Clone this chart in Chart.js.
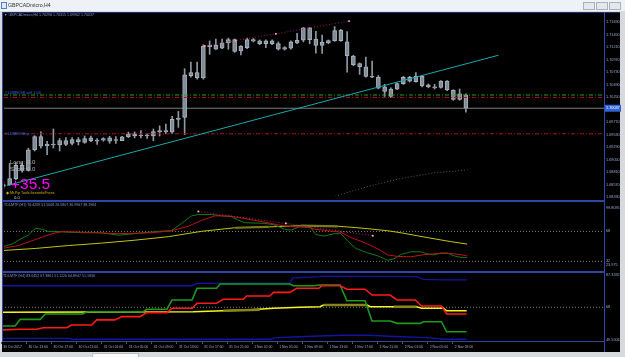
<!DOCTYPE html>
<html>
<head>
<meta charset="utf-8">
<title>GBPCADmicro,H4</title>
<script src="https://cdn.jsdelivr.net/npm/chart.js@4.4.1/dist/chart.umd.min.js"></script>
<style>
  html, body { margin: 0; padding: 0; }
  body { position: relative; width: 625px; height: 357px; overflow: hidden; background: #d6dadf; font-family: "Liberation Sans", Arial, sans-serif; }
  .abs { position: absolute; }
  .txt { position: absolute; white-space: nowrap; line-height: 1; z-index: 3; }
  .line { position: absolute; z-index: 2; }
  canvas { position: absolute; left: 0; z-index: 1; }
</style>
</head>
<body>
  <!-- window title bar -->
  <div class="abs" style="left:0;top:0;width:625px;height:11px;background:#eef1f5;"></div>
  <div class="abs" style="left:1px;top:2px;width:4px;height:5px;border:1px solid #5a7fc0;background:#dfe9f7;"></div>
  <div class="txt" style="left:8px;top:3px;font-size:5.2px;color:#333;">GBPCADmicro,H4</div>
  <div class="abs" style="left:583px;top:2px;width:10px;height:6px;border:1px solid #a9b1bc;background:#e4e8ec;"></div>
  <div class="abs" style="left:596px;top:2px;width:10px;height:6px;border:1px solid #a9b1bc;background:#e4e8ec;"></div>
  <div class="abs" style="left:609px;top:2px;width:10px;height:6px;border:1px solid #a9b1bc;background:#e4e8ec;"></div>

  <!-- chart frame -->
  <div class="abs" style="left:2px;top:12px;width:618px;height:340px;background:#000;"></div>
  <div class="abs" style="left:92px;top:353px;width:45px;height:4px;background:#fbfbfb;border:1px solid #b8bec6;"></div>

  <canvas id="mainChart" width="625" height="188" style="top:12px"></canvas>
  <canvas id="tdiH1Chart" width="625" height="71" style="top:201px"></canvas>
  <canvas id="tdiH4Chart" width="625" height="80" style="top:272px"></canvas>

  <div class="line" style="left:2px;top:12px;width:618px;height:1px;background:#1e2f78;"></div>
  <div class="line" style="left:2px;top:12px;width:1px;height:330px;background:#34469a;"></div>
  <div class="line" style="left:604px;top:12px;width:1px;height:340px;background:#2f48b0;"></div>
  <div class="line" style="left:2px;top:200px;width:602px;height:2px;background:#2d46a8;"></div>
  <div class="line" style="left:2px;top:271px;width:602px;height:2px;background:#2d46a8;"></div>

  <!-- text inside the panes -->
  <div class="txt" id="mainTitle" style="left:4px;top:13.5px;font-size:3.6px;color:#8796c8;"></div>
  <div class="txt" style="left:5px;top:90.5px;font-size:4px;color:#3c64e6;">#14389098 sell 1.00</div>
  <div class="txt" style="left:5px;top:131.5px;font-size:4px;color:#3c64e6;">#14389098 tp</div>
  <div class="txt" style="left:10px;top:159px;font-size:6px;color:#b4b4b4;">Long:</div>
  <div class="txt" style="left:27px;top:159px;font-size:6px;color:#b4b4b4;">0.0</div>
  <div class="txt" style="left:10px;top:166px;font-size:6px;color:#b4b4b4;">Short:</div>
  <div class="txt" style="left:27px;top:166px;font-size:6px;color:#b4b4b4;">0.0</div>
  <div class="txt" style="left:11px;top:176px;font-size:15.5px;color:#ff00ff;">+35.5</div>
  <div class="txt" style="left:6px;top:192px;font-size:3.6px;color:#d2b400;">&#9670; Mr.Pip Tools forexinfo/Forex</div>
  <div class="txt" style="left:14px;top:195.5px;font-size:4.2px;color:#c8c8c8;">0.0</div>
  <div class="txt" style="left:4px;top:203.5px;font-size:3.6px;color:#8796c8;">TDI-MTF (H1) 76.4209 51.5008 26.5807 36.9967 38.1964</div>
  <div class="txt" style="left:3px;top:274.5px;font-size:3.6px;color:#8796c8;">TDI-MTF (H4) 83.0452 67.3861 51.1120 64.8947 51.1830</div>

<script>
// ---- data ----

// bottom time axis: one label every 4 bars (bar index -> label)
const timeTickBars = [0, 4, 8, 12, 16, 20, 24, 28, 32, 36, 40, 44, 48, 52, 56, 60, 64, 68, 72];
const timeLabels = ['30 Oct 2017', '30 Oct 13:00', '30 Oct 17:00', '30 Oct 21:00', '31 Oct 01:00',
    '31 Oct 05:00', '31 Oct 09:00', '31 Oct 13:00', '31 Oct 17:00', '31 Oct 21:00', '1 Nov 01:00',
    '1 Nov 05:00', '1 Nov 09:00', '1 Nov 13:00', '1 Nov 17:00', '1 Nov 21:00', '2 Nov 01:00',
    '2 Nov 05:00', '2 Nov 09:00'];

// candles, bar 0 .. 74
const openPrices = [1.68538, 1.68569, 1.68685, 1.68942, 1.68844, 1.69241, 1.69492, 1.69345, 1.69332, 1.69332,
    1.69419, 1.69364, 1.69437, 1.69382, 1.69413, 1.69424, 1.69424, 1.69406, 1.69424, 1.69413,
    1.69487, 1.69547, 1.69505, 1.69511, 1.69505, 1.69590, 1.69597, 1.69579, 1.69823, 1.69861,
    1.70662, 1.70722, 1.70618, 1.71218, 1.71250, 1.71187, 1.71292, 1.71352, 1.71138, 1.71200,
    1.71352, 1.71328, 1.71273, 1.71328, 1.71279, 1.71168, 1.71187, 1.71292, 1.71341, 1.71580,
    1.71365, 1.71242, 1.71292, 1.71334, 1.71536, 1.71310, 1.71035, 1.70893, 1.70832, 1.70640,
    1.70632, 1.70447, 1.70405, 1.70405, 1.70508, 1.70632, 1.70545, 1.70649, 1.70484, 1.70447,
    1.70434, 1.70558, 1.70386, 1.70208, 1.70296];
const highPrices = [1.68629, 1.68978, 1.68997, 1.68997, 1.69272, 1.69511, 1.69584, 1.69401, 1.69639, 1.69456,
    1.69474, 1.69474, 1.69474, 1.69505, 1.69505, 1.69456, 1.69474, 1.69498, 1.69492, 1.69498,
    1.69579, 1.69584, 1.69608, 1.69547, 1.69639, 1.69700, 1.69731, 1.69883, 1.69975, 1.70795,
    1.70924, 1.70924, 1.71255, 1.71328, 1.71365, 1.71365, 1.71383, 1.71365, 1.71237, 1.71383,
    1.71374, 1.71347, 1.71347, 1.71347, 1.71310, 1.71218, 1.71328, 1.71475, 1.71585, 1.71585,
    1.71512, 1.71438, 1.71347, 1.71604, 1.71549, 1.71506, 1.71053, 1.70906, 1.71016, 1.70943,
    1.70667, 1.70497, 1.70429, 1.70521, 1.70649, 1.70649, 1.70722, 1.70658, 1.70502, 1.70497,
    1.70566, 1.70566, 1.70392, 1.70405, 1.70315];
const lowPrices = [1.68501, 1.68556, 1.68666, 1.68813, 1.68831, 1.69217, 1.69272, 1.69149, 1.69272, 1.69217,
    1.69318, 1.69332, 1.69332, 1.69364, 1.69395, 1.69345, 1.69406, 1.69364, 1.69364, 1.69413,
    1.69474, 1.69468, 1.69468, 1.69456, 1.69413, 1.69505, 1.69547, 1.69547, 1.69670, 1.69529,
    1.70632, 1.70594, 1.70594, 1.71071, 1.71163, 1.71181, 1.71168, 1.71108, 1.71058, 1.71181,
    1.71310, 1.71255, 1.71200, 1.71255, 1.71153, 1.71153, 1.71172, 1.71273, 1.71310, 1.71273,
    1.71095, 1.71090, 1.71273, 1.71319, 1.71319, 1.70728, 1.70851, 1.70686, 1.70632, 1.70621,
    1.70410, 1.70263, 1.70245, 1.70392, 1.70493, 1.70539, 1.70539, 1.70447, 1.70429, 1.70405,
    1.70420, 1.70374, 1.70190, 1.70190, 1.69962];
const closePrices = [1.68574, 1.68690, 1.68942, 1.68844, 1.69241, 1.69492, 1.69309, 1.69318, 1.69345, 1.69419,
    1.69345, 1.69437, 1.69395, 1.69456, 1.69468, 1.69406, 1.69456, 1.69468, 1.69419, 1.69487,
    1.69547, 1.69505, 1.69511, 1.69505, 1.69590, 1.69597, 1.69590, 1.69823, 1.69836, 1.70680,
    1.70722, 1.70618, 1.71231, 1.71250, 1.71168, 1.71292, 1.71352, 1.71126, 1.71231, 1.71352,
    1.71323, 1.71273, 1.71328, 1.71273, 1.71168, 1.71200, 1.71310, 1.71341, 1.71580, 1.71352,
    1.71242, 1.71304, 1.71334, 1.71525, 1.71334, 1.71047, 1.70875, 1.70832, 1.70649, 1.70632,
    1.70423, 1.70361, 1.70263, 1.70508, 1.70632, 1.70558, 1.70649, 1.70465, 1.70447, 1.70429,
    1.70558, 1.70386, 1.70208, 1.70313, 1.70037];

// price axis
const priceTicks = [1.71690, 1.71450, 1.71210, 1.70970, 1.70730, 1.70490, 1.70250,
    1.69770, 1.69530, 1.69290, 1.69050, 1.68810, 1.68570, 1.68330];

// objects on the price pane: [bar, price]
const trendLine = [[0.6, 1.68556], [79.2, 1.71053]];
const resistanceLine = [[32.2, 1.71231], [37.1, 1.71334], [43.6, 1.71465], [55.3, 1.71708]];
const slowAverage = [[48.0, 1.68180], [53.2, 1.68354], [58.3, 1.68538], [63.6, 1.68690], [68.8, 1.68795], [74.3, 1.68855]];
const orderPrice = 1.70291;
const stopPrice = 1.70245;
const takeProfitPrice = 1.69547;

// TDI-MTF (H1) pane: [bar, value]
const tdiH1Ticks = [96.6, 68, 32, 27.9];
const tdiH1TickLabels = ['99.8095', '68', '32', '23.975'];
const tdiH1Levels = [68, 32];
const tdiH1Green = [[-0.2, 49.3], [1.4, 52.8], [3.0, 60.0], [4.0, 63.5], [5.1, 71.7], [6.2, 70.7], [7.2, 67.8], [8.8, 67.8],
    [10.4, 67.0], [13.0, 66.4], [15.7, 66.4], [18.4, 63.5], [21.0, 65.3], [24.8, 68.1], [26.9, 68.8], [28.5, 77.7],
    [30.1, 86.7], [31.2, 88.4], [33.3, 88.4], [34.9, 86.7], [36.5, 85.6], [37.5, 82.0], [38.6, 78.5], [41.8, 77.7],
    [43.3, 76.0], [45.0, 70.7], [46.0, 69.6], [47.6, 74.2], [49.2, 72.4], [50.0, 64.2], [51.3, 62.4], [52.9, 65.3],
    [54.0, 65.3], [55.1, 56.3], [56.4, 47.5], [58.3, 42.1], [59.9, 38.6], [61.5, 33.3], [62.5, 35.0], [63.6, 40.3],
    [65.2, 43.5], [66.8, 43.5], [67.8, 41.1], [68.9, 39.7], [70.0, 42.1], [71.0, 42.1], [72.1, 38.6], [73.2, 36.8], [74.2, 36.5]];
const tdiH1Red = [[-0.2, 47.5], [2.4, 51.0], [5.1, 58.2], [7.8, 65.3], [9.4, 67.8], [13.0, 67.0], [18.4, 65.3], [23.7, 66.4],
    [26.9, 68.8], [29.6, 74.2], [31.7, 81.3], [33.8, 86.7], [35.9, 86.7], [38.1, 84.1], [40.2, 81.3], [42.3, 78.5],
    [44.4, 75.2], [46.6, 73.4], [48.7, 73.1], [49.8, 70.7], [51.9, 68.8], [54.0, 67.0], [55.6, 60.6], [57.2, 56.3],
    [58.8, 51.0], [60.4, 45.0], [61.5, 39.7], [63.1, 37.9], [65.2, 37.5], [67.3, 40.0], [69.4, 41.4], [71.6, 41.4],
    [73.2, 40.0], [74.2, 38.6]];
const tdiH1Yellow = [[-0.2, 45.0], [5.1, 47.5], [10.4, 51.0], [15.7, 53.9], [21.0, 57.4], [26.4, 61.7], [31.7, 68.1],
    [37.0, 72.4], [42.3, 73.4], [47.6, 74.9], [53.5, 74.2], [55.6, 73.1], [58.3, 71.3], [61.5, 68.8], [63.6, 66.4],
    [66.2, 62.8], [68.9, 59.2], [71.6, 55.7], [74.2, 52.8]];
const tdiH1Olive = [[[37.1, 72.4], [42.4, 73.4]], [[47.6, 74.9], [53.5, 74.2]]];
const tdiH1Divergence = [[31.2, 92.0], [45.2, 77.7], [59.1, 62.8]];

// TDI-MTF (H4) pane: [bar, value]
const tdiH4Ticks = [85.7, 68, 50.1];
const tdiH4TickLabels = ['87.3332', '68', '49.5506'];
const tdiH4Levels = [68];
const tdiH4Upper = [[-0.2, 79.8], [30.4, 79.8], [31.2, 81.1], [46.0, 81.3], [46.5, 84.1], [50.8, 84.8], [51.1, 85.1],
    [66.2, 84.8], [67.3, 83.3], [70.5, 83.0], [74.2, 83.0]];
const tdiH4Lower = [[-0.2, 51.0], [10.9, 51.0], [11.2, 50.5], [42.8, 50.5], [43.9, 51.4], [47.6, 51.9], [50.8, 52.3],
    [54.5, 52.7], [58.3, 52.7], [63.6, 51.9], [67.8, 51.4], [71.0, 50.5], [74.2, 50.5]];
const tdiH4Green = [[0.2, 57.8], [2.2, 57.8], [3.0, 61.4], [6.2, 61.4], [7.0, 64.3], [12.9, 64.3], [13.7, 65.6], [22.6, 65.6],
    [23.2, 66.9], [26.4, 66.9], [27.2, 72.0], [30.4, 72.0], [31.2, 78.4], [34.3, 78.4], [34.9, 80.8], [46.0, 80.8],
    [46.6, 79.8], [49.8, 79.8], [50.8, 80.2], [54.0, 80.2], [55.1, 71.6], [58.0, 71.6], [59.1, 60.5], [62.0, 60.5],
    [63.1, 59.2], [66.8, 59.2], [67.3, 60.1], [70.2, 60.1], [71.0, 54.6], [74.2, 54.6]];
const tdiH4Red = [[-0.2, 55.6], [3.0, 56.0], [5.6, 56.0], [6.7, 56.8], [10.4, 56.8], [11.2, 58.3], [14.4, 58.3], [15.2, 61.1],
    [18.1, 61.1], [19.2, 62.9], [22.1, 62.9], [23.2, 65.1], [26.4, 65.1], [27.2, 67.5], [30.4, 67.5], [31.2, 70.2],
    [34.3, 70.2], [35.4, 72.4], [38.6, 72.4], [39.1, 74.2], [42.8, 74.2], [43.4, 76.2], [46.0, 76.2], [47.1, 78.4],
    [50.6, 78.4], [51.1, 79.8], [54.0, 79.8], [55.1, 77.9], [58.0, 77.9], [59.1, 74.7], [62.0, 74.7], [63.1, 72.0],
    [66.0, 72.0], [67.0, 68.7], [70.2, 68.7], [71.0, 64.3], [74.2, 64.3]];
const tdiH4Yellow = [[-0.2, 65.3], [30.6, 65.6], [35.4, 66.1], [39.1, 66.5], [43.4, 67.5], [47.6, 68.0], [50.8, 68.3],
    [51.4, 69.3], [58.3, 69.3], [58.8, 68.3], [66.2, 68.3], [67.0, 67.5], [70.5, 67.5], [71.0, 66.1], [74.2, 66.1]];
const tdiH4Olive = [[[35.4, 66.1], [41.2, 66.7]], [[51.4, 69.3], [58.3, 69.3]], [[62.6, 68.3], [66.2, 68.3]]];

// ---- chart setup ----
Chart.defaults.font.family = '"Liberation Sans", Arial, sans-serif';
Chart.defaults.animation = false;

const X_MIN = 0.1;
const X_MAX = 96.1;
const lastIndex = closePrices.length - 1;
const lastClose = closePrices[lastIndex];

document.getElementById('mainTitle').textContent =
    '\u25BC GBPCADmicro,H4  ' + [openPrices[lastIndex], highPrices[lastIndex], lowPrices[lastIndex], lastClose]
        .map(v => v.toFixed(5)).join(' ');

const pts = arr => arr.map(p => ({ x: p[0], y: p[1] }));
const flat = v => [[X_MIN, v], [X_MAX, v]];

function lineSet(points, color, width, extra) {
    return Object.assign({
        type: 'line',
        data: pts(points),
        borderColor: color,
        borderWidth: width,
        pointRadius: 0,
        tension: 0,
        fill: false,
        order: 1
    }, extra || {});
}

function xAxis(show) {
    const axis = { type: 'linear', min: X_MIN, max: X_MAX, offset: false, display: show };
    if (!show) return axis;
    return Object.assign(axis, {
        position: 'bottom',
        afterBuildTicks: s => { s.ticks = timeTickBars.map(v => ({ value: v })); },
        afterFit: s => { s.height = 11; s.paddingLeft = 0; s.paddingRight = 0; },
        grid: { display: true, drawOnChartArea: false, drawTicks: true, tickLength: 3, color: '#4a5580' },
        border: { display: true, color: '#34479a' },
        ticks: {
            autoSkip: false, maxRotation: 0, minRotation: 0, align: 'start', labelOffset: 2, padding: 1,
            color: '#a4acc8', font: { size: 3.4 },
            callback: (v, i) => timeLabels[i]
        }
    });
}

function rightAxis(min, max, tickValues, labelFor) {
    return {
        position: 'right', min: min, max: max,
        afterBuildTicks: s => { s.ticks = tickValues.map(v => ({ value: v })); },
        afterFit: s => { s.width = 21; s.paddingTop = 0; s.paddingBottom = 0; },
        grid: { display: false, drawTicks: false },
        border: { display: false },
        ticks: { autoSkip: false, padding: 2, color: '#9aa9d6', font: { size: 3.8 }, callback: labelFor }
    };
}

function baseOptions(yAxis, showX) {
    return {
        responsive: false,
        devicePixelRatio: 1,
        layout: { padding: { left: 2, right: 0, top: 0, bottom: 0 } },
        plugins: { legend: { display: false }, tooltip: { enabled: false } },
        scales: { x: xAxis(showX), y: yAxis }
    };
}

// current price box on the price axis
const priceBox = {
    id: 'priceBox',
    afterDraw(chart) {
        const y = chart.scales.y.getPixelForValue(lastClose);
        const ctx = chart.ctx;
        ctx.save();
        ctx.fillStyle = '#2f62d6';
        ctx.fillRect(chart.chartArea.right + 1, y - 3.5, 16, 7);
        ctx.fillStyle = '#ffffff';
        ctx.font = '3.8px "Liberation Sans", Arial';
        ctx.textBaseline = 'middle';
        ctx.fillText(lastClose.toFixed(5), chart.chartArea.right + 2, y);
        ctx.restore();
    }
};

const bodies = closePrices.map((c, i) => ({ x: i, y: [Math.min(openPrices[i], c), Math.max(openPrices[i], c)] }));
const wicks = closePrices.map((c, i) => ({ x: i, y: [lowPrices[i], highPrices[i]] }));

new Chart(document.getElementById('mainChart'), {
    type: 'line',
    data: {
        datasets: [
            lineSet(trendLine, '#17a9ac', 1, { order: 0 }),
            lineSet(resistanceLine, '#a0145a', 1, {
                order: 0, borderDash: [1, 2],
                pointRadius: 1.2, pointStyle: 'rect',
                pointBackgroundColor: '#ffa0d8', pointBorderWidth: 0
            }),
            lineSet(slowAverage, '#5a5a5a', 1, { borderDash: [1, 2] }),
            lineSet(flat(orderPrice), '#14a814', 1, { borderDash: [4, 2, 1, 2] }),
            lineSet(flat(stopPrice), '#b01010', 1, { borderDash: [4, 2, 1, 2] }),
            lineSet(flat(takeProfitPrice), '#a81414', 1, { borderDash: [4, 2, 1, 2] }),
            lineSet(flat(lastClose), '#7c7c7c', 1, { order: 3 }),
            {
                type: 'bar', data: bodies, grouped: false, barThickness: 4, minBarLength: 1,
                backgroundColor: '#808c98', borderColor: '#a9b3bd', borderWidth: 1, borderSkipped: false, order: 2
            },
            {
                type: 'bar', data: wicks, grouped: false, barThickness: 1,
                backgroundColor: '#8d98a4', borderWidth: 0, order: 4
            }
        ]
    },
    options: baseOptions(rightAxis(1.68354, 1.71806, priceTicks, v => v.toFixed(5)), false),
    plugins: [priceBox]
});

new Chart(document.getElementById('tdiH1Chart'), {
    type: 'line',
    data: {
        datasets: [
            ...tdiH1Levels.map(v => lineSet(flat(v), '#7a7a7a', 1, { borderDash: [1, 2], order: 5 })),
            lineSet(tdiH1Yellow, '#c4c412', 1, { order: 3 }),
            ...tdiH1Olive.map(seg => lineSet(seg, '#7a7a18', 2.2, { order: 2 })),
            lineSet(tdiH1Red, '#c01212', 1, { order: 1 }),
            lineSet(tdiH1Green, '#127a12', 1, { order: 1 }),
            lineSet(tdiH1Divergence, '#b0207a', 1, {
                order: 0, borderDash: [1, 2],
                pointRadius: 1.2, pointStyle: 'rect', pointBackgroundColor: '#ffc0e8', pointBorderWidth: 0
            })
        ]
    },
    options: baseOptions(rightAxis(23.975, 99.8095, tdiH1Ticks, (v, i) => tdiH1TickLabels[i]), false)
});

new Chart(document.getElementById('tdiH4Chart'), {
    type: 'line',
    data: {
        datasets: [
            ...tdiH4Levels.map(v => lineSet(flat(v), '#7a7a7a', 1, { borderDash: [1, 2], order: 5 })),
            lineSet(tdiH4Upper, '#1414a0', 1.4, { order: 4 }),
            lineSet(tdiH4Lower, '#1414a0', 1.4, { order: 4 }),
            lineSet(tdiH4Yellow, '#f4f420', 1.6, { order: 3 }),
            ...tdiH4Olive.map(seg => lineSet(seg, '#86861a', 2.6, { order: 2 })),
            lineSet(tdiH4Green, '#1c9a1c', 1.6, { order: 1 }),
            lineSet(tdiH4Red, '#ff1a1a', 1.6, { order: 0 })
        ]
    },
    options: baseOptions(rightAxis(49.5506, 87.3332, tdiH4Ticks, (v, i) => tdiH4TickLabels[i]), true)
});
</script>
</body>
</html>
